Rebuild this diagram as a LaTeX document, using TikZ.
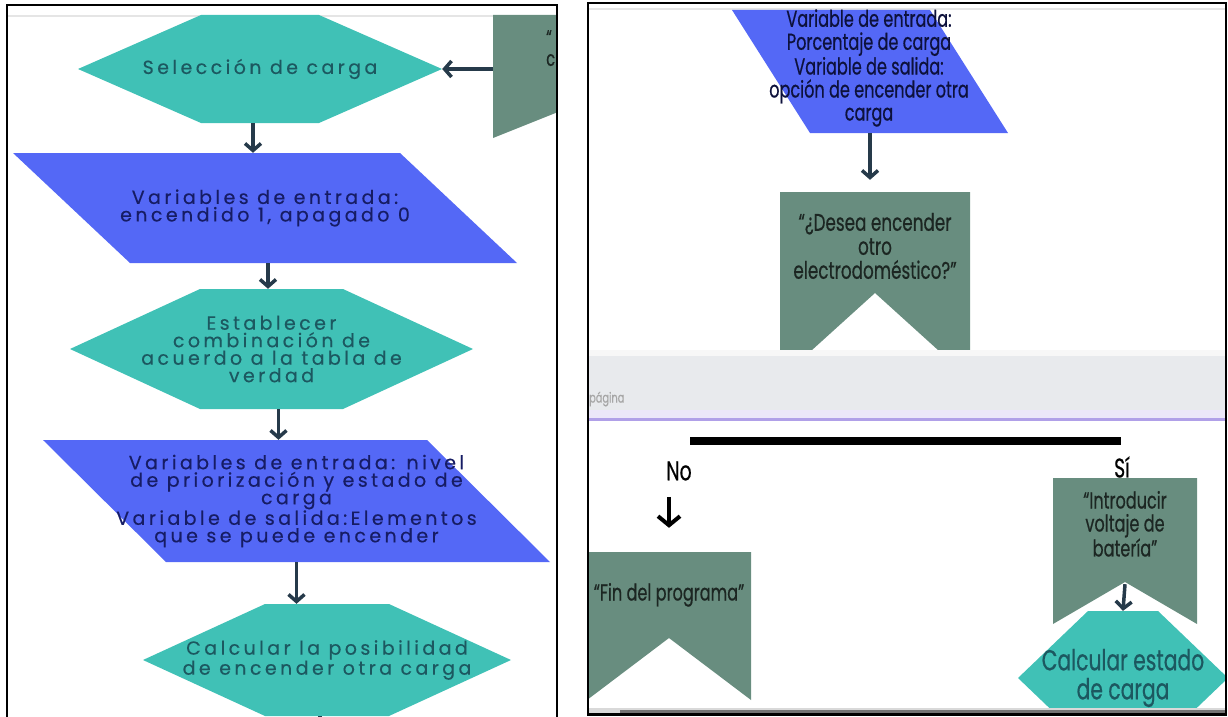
\documentclass[tikz,border=0pt]{standalone}
\usepackage{fontspec}
\usetikzlibrary{arrows.meta,positioning}
\newfontfamily\flowfont[LetterSpace=18,FakeBold=0.35]{Poppins}
\newfontfamily\slimfont[FakeStretch=0.7,FakeBold=0.5]{Poppins}
\definecolor{tealfill}{RGB}{64,193,182}
\definecolor{bluefill}{RGB}{84,104,246}
\definecolor{sagefill}{RGB}{104,141,127}
\definecolor{arrowc}{RGB}{38,58,74}
\definecolor{tealtext}{RGB}{28,88,96}
\definecolor{bluetext}{RGB}{22,28,100}
\definecolor{sagetext}{RGB}{28,38,34}
\definecolor{bandgray}{RGB}{232,234,237}
\definecolor{bandline}{RGB}{176,160,232}

\begin{document}
\begin{tikzpicture}[x=1pt, y=-1pt,
    hexa/.style={inner sep=0pt, path picture={\fill[tealfill] (path picture bounding box.west) -- ([xshift=#1]path picture bounding box.north west) -- ([xshift=-#1]path picture bounding box.north east) -- (path picture bounding box.east) -- ([xshift=-#1]path picture bounding box.south east) -- ([xshift=#1]path picture bounding box.south west) -- cycle;}},
    lean/.style={inner sep=0pt, path picture={\fill[bluefill] (path picture bounding box.north west) -- ([xshift=-#1]path picture bounding box.north east) -- (path picture bounding box.south east) -- ([xshift=#1]path picture bounding box.south west) -- cycle;}},
    flag/.style={inner sep=0pt, path picture={\fill[sagefill] (path picture bounding box.north west) -- (path picture bounding box.north east) -- (path picture bounding box.south east) -- ([yshift=#1]path picture bounding box.south) -- (path picture bounding box.south west) -- cycle;}},
    ltxt/.style={font=\flowfont\fontsize{19}{17.5}\selectfont, align=center},
    rtxt/.style={font=\slimfont\fontsize{#1}{#1}\selectfont, align=center, inner sep=0pt},
    flow/.style={draw=arrowc, line width=3.5pt, -{Straight Barb[length=7pt,width=16pt]}},
    noflow/.style={draw=black, line width=4pt, -{Straight Barb[length=9pt,width=22pt]}}]
  \useasboundingbox (0,0) rectangle (1228,717);

  % left panel
  \begin{scope}
    \clip (8,6) rectangle (556,717);
    \draw[black!10, line width=1.5pt] (8,16) -- (556,16);
    \node[hexa=123pt, minimum width=364pt, minimum height=108pt, text=tealtext, ltxt] (sel) at (260,69) {Selección de carga};
    \node[flag=38pt, minimum width=190pt, minimum height=123pt] (back) at (588,76.5) {};
    \node[anchor=north west, text=sagetext, rtxt=21, align=left] (backtxt) at (546,30) {“\\c};
    \node[lean=117pt, minimum width=504pt, minimum height=110pt, text=bluetext, ltxt] (var1) at (265,208) {Variables de entrada:\\encendido 1, apagado 0};
    \node[hexa=130pt, minimum width=403pt, minimum height=120pt, text=tealtext, ltxt] (comb) at (271.5,349) {Establecer\\combinación de\\acuerdo a la tabla de\\verdad};
    \node[lean=123pt, minimum width=507pt, minimum height=122pt, text=bluetext, ltxt] (var2) at (296.5,501) {Variables de entrada: nivel\\de priorización y estado de\\carga\\Variable de salida:Elementos\\que se puede encender};
    \node[hexa=122pt, minimum width=368pt, minimum height=112pt, text=tealtext, ltxt] (calc) at (327,660) {Calcular la posibilidad\\de encender otra carga};
    \draw[flow] (back.west |- sel.east) -- (sel.east);
    \draw[flow] ([xshift=-7pt]sel.south) -- ([xshift=-7pt]sel.south |- var1.north);
    \draw[flow] ([xshift=3pt]var1.south) -- ([xshift=3pt]var1.south |- comb.north);
    \draw[flow] ([xshift=7pt]comb.south) -- ([xshift=7pt]comb.south |- var2.north);
    \draw[flow] (var2.south) -- (var2.south |- calc.north);
    \draw[draw=arrowc, line width=3.5pt] ([xshift=-7pt]calc.south) -- ++(0,10);
  \end{scope}
  \draw[line width=2.5pt] (7,5) rectangle (557,721);

  % right panel
  \begin{scope}
    \clip (589,4) rectangle (1225,713);
    \draw[black!10, line width=1.5pt] (589,9) -- (1225,9);
    \node[lean=78pt, minimum width=276pt, minimum height=123pt] (pct) at (870,71.5) {};
    \node[rtxt=23, text=bluetext!60!black] (pcttxt) at (869,68) {\fontsize{23}{21}\selectfont Variable de entrada:\\Porcentaje de carga\\Variable de salida:\\opción de encender otra\\carga};
    \node[flag=86pt, minimum width=190pt, minimum height=187pt] (ask) at (875,285.5) {};
    \node[rtxt=24, text=sagetext, below=21pt of ask.north] (asktxt) {\fontsize{24}{21.5}\selectfont “¿Desea encender\\otro\\electrodoméstico?”};
    \draw[flow, shorten >=12pt] (pct.south) -- (pct.south |- ask.north);
    % page break band
    \fill[bandgray] (588,350) rectangle (1228,418);
    \fill[black!3] (588,350) rectangle (1228,356);
    \fill[bandline!25] (588,410) rectangle (1228,418);
    \fill[bandline] (588,417.5) rectangle (1228,420.5);
    \node[anchor=west, text=black!35, rtxt=14] (pagina) at (589,399) {página};
    \node[fill=black, minimum width=431pt, minimum height=8pt, inner sep=0pt] (split) at (905.5,441) {};
    \node[rtxt=27, text=black] (no) at (679,471) {No};
    \node[rtxt=27, text=black] (si) at (1122,467) {Sí};
    \node[flag=62pt, minimum width=164pt, minimum height=148pt] (fin) at (669,626) {};
    \node[rtxt=23, text=sagetext, below=31pt of fin.north] (fintxt) {“Fin del programa”};
    \node[flag=42pt, minimum width=144pt, minimum height=146pt] (intro) at (1125,551) {};
    \node[rtxt=23, text=sagetext, below=13pt of intro.north] (introtxt) {\fontsize{23}{25}\selectfont “Introducir\\voltaje de\\batería”};
    \node[hexa=70pt, minimum width=210pt, minimum height=134pt, text=tealtext, rtxt=29] (estado) at (1123,678) {\fontsize{29}{28}\selectfont Calcular estado\\de carga};
    \draw[noflow, shorten <=16pt] (no.south -| fin.north) -- ([yshift=24pt]fin.north);
    \draw[flow] ([yshift=40pt]intro.south) -- (estado.north);
    \fill[black!15] (589,708) rectangle (1225,713);
    \fill[black!55] (620,709.5) rectangle (1225,712.5);
  \end{scope}
  \draw[line width=2.5pt] (588,3) rectangle (1226,714.5);
\end{tikzpicture}
\end{document}
